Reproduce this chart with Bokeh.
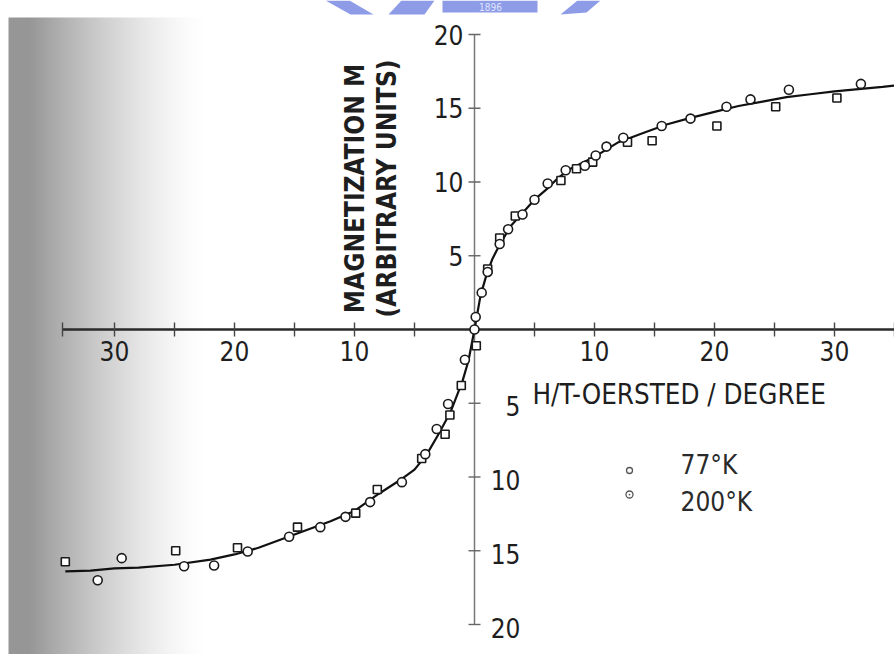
import numpy as np
from bokeh.plotting import figure
from bokeh.models import Range1d
from bokeh.core.properties import value
from bokeh.embed import file_html
from bokeh.resources import INLINE

# ---------------- data ----------------
# smooth magnetization curve, M vs H/T
curve_h = [-34.1, -32, -30, -28, -25, -22, -20, -18, -15, -12, -10, -8, -6, -5,
           -4, -3, -2, -1, -0.5, 0, 0.5, 1, 1.5, 2, 3, 4, 5, 6, 7, 8, 9, 10,
           12, 14, 16, 18, 20, 22, 24, 26, 28, 30, 32, 34, 35.2]
curve_m = [-16.4, -16.35, -16.2, -16.15, -15.95, -15.6, -15.25, -14.8, -13.9,
           -13.0, -12.3, -11.15, -10.1, -9.5, -8.5, -7.1, -5.6, -3.5, -2.1, 0,
           2.3, 3.7, 4.8, 5.6, 7.0, 7.9, 8.8, 9.5, 10.3, 10.9, 11.3, 11.7,
           12.7, 13.3, 13.9, 14.35, 14.75, 15.15, 15.45, 15.75, 15.95, 16.15,
           16.3, 16.45, 16.55]

# measurements at 77 K
h_77 = [0, 0.1, 0.6, 1.1, 2.1, 2.8, 4.0, 5.0, 6.1, 7.6, 9.2, 10.1, 11.0, 12.4,
        15.6, 18.0, 21.0, 23.0, 26.2, 32.2,
        -0.8, -2.2, -3.15, -4.1, -6.05, -8.7, -10.75, -12.85, -15.45, -18.9,
        -21.7, -24.2, -29.4, -31.4]
m_77 = [0, 0.85, 2.5, 3.9, 5.8, 6.8, 7.8, 8.8, 9.9, 10.8, 11.1, 11.8, 12.4, 13.0,
        13.8, 14.3, 15.1, 15.6, 16.25, 16.65,
        -2.05, -5.05, -6.75, -8.45, -10.35, -11.7, -12.7, -13.4, -14.05, -15.05,
        -16.0, -16.05, -15.5, -17.0]

# measurements at 200 K
h_200 = [0.15, 1.1, 2.1, 3.4, 7.2, 8.5, 9.85, 12.75, 14.8, 20.2, 25.1, 30.2,
         -1.1, -2.05, -2.45, -4.4, -8.1, -9.9, -14.75, -19.75, -24.9, -34.1]
m_200 = [-1.1, 4.1, 6.2, 7.7, 10.1, 10.9, 11.35, 12.7, 12.8, 13.8, 15.1, 15.7,
         -3.8, -5.8, -7.1, -8.75, -10.85, -12.45, -13.4, -14.8, -15.0, -15.75]

series_names = ["77\u00b0K", "200\u00b0K"]

x_ticks = [-30, -25, -20, -15, -10, -5, 5, 10, 15, 20, 25, 30, 35]
x_label_vals = [-30, -20, -10, 10, 20, 30]
x_label_text = ["30", "20", "10", "10", "20", "30"]
y_ticks = [20, 15, 10, 5, -5, -10, -15, -20]
y_pos_vals = [20, 15, 10, 5]
y_pos_text = ["20", "15", "10", "5"]
y_neg_vals = [-5, -10, -15, -20]
y_neg_text = ["5", "10", "15", "20"]

# ---------------- canvas geometry ----------------
W, H = 894, 654
PPX, PPY = 12.0, 14.75          # pixels per data unit
X_LO = -474 / PPX
X_HI = (W - 474) / PPX
Y_HI = 329 / PPY
Y_LO = -(H - 329) / PPY


def dx(px):
    return X_LO + px / PPX


def dy(py):
    return Y_HI - py / PPY


FONT = value("DejaVu Sans Condensed, DejaVu Sans, sans-serif")
INK = "#1e1e1e"

p = figure(width=W, height=H, x_range=Range1d(X_LO, X_HI),
           y_range=Range1d(Y_LO, Y_HI), output_backend="svg",
           toolbar_location=None, x_axis_location=None, y_axis_location=None,
           min_border=0, background_fill_color="white",
           border_fill_color="white", outline_line_color=None)
p.grid.visible = False

# grey shading along the left margin of the sheet
cols = 200
xs_px = np.arange(cols) + 0.5
shade = np.clip((195 - xs_px) / 175.0, 0, 1) ** 1.4
grey = (255 - 105 * shade).astype(np.uint32)
img = np.zeros((1, cols), dtype=np.uint32)
view = img.view(dtype=np.uint8).reshape((1, cols, 4))
view[..., 0] = grey
view[..., 1] = grey
view[..., 2] = grey
view[..., 3] = 255
p.image_rgba(image=[img], x=dx(8), y=dy(H), dw=cols / PPX, dh=(H - 17) / PPY)

# library stamp at the top edge
stamp_color = "#8e9ce8"
p.patch([dx(325), dx(349), dx(373), dx(350)], [dy(0), dy(0), dy(14), dy(14)],
        fill_color=stamp_color, line_color=None)
p.patch([dx(388), dx(401), dx(434), dx(424)], [dy(14), dy(0), dy(0), dy(14)],
        fill_color=stamp_color, line_color=None)
p.quad(left=dx(442), right=dx(537), top=dy(0), bottom=dy(12),
       fill_color=stamp_color, line_color=None)
p.patch([dx(560), dx(577), dx(600), dx(586)], [dy(14), dy(0), dy(0), dy(12)],
        fill_color=stamp_color, line_color=None)
p.text(x=[dx(490)], y=[dy(6.5)], text=["1896"], text_align="center",
       text_baseline="middle", text_font=FONT, text_font_size="10px",
       text_color="#dfe4fb")

# axes drawn through the origin
p.segment(x0=[dx(62)], y0=[0], x1=[X_HI], y1=[0], line_color="#2a2a2a",
          line_width=2.4)
p.segment(x0=[0], y0=[-20], x1=[0], y1=[20], line_color="#777777",
          line_width=1.5)

tx = 7 / PPY
p.segment(x0=x_ticks + [dx(62)], y0=[-tx] * (len(x_ticks) + 1),
          x1=x_ticks + [dx(62)], y1=[tx] * (len(x_ticks) + 1),
          line_color="#444444", line_width=1.4)
ty = 6 / PPX
p.segment(x0=[-ty] * len(y_ticks), y0=y_ticks, x1=[ty] * len(y_ticks),
          y1=y_ticks, line_color="#666666", line_width=1.4)

p.text(x=x_label_vals, y=[0] * len(x_label_vals), text=x_label_text,
       y_offset=21, text_align="center", text_baseline="middle",
       text_font=FONT, text_font_size="26px", text_color=INK)
p.text(x=[0] * 4, y=y_pos_vals, text=y_pos_text, x_offset=-11,
       text_align="right", text_baseline="middle", text_font=FONT,
       text_font_size="26px", text_color=INK)
p.text(x=[0] * 4, y=y_neg_vals, text=y_neg_text, x_offset=46, y_offset=3,
       text_align="right", text_baseline="middle", text_font=FONT,
       text_font_size="26px", text_color=INK)

# axis titles
p.text(x=[dx(532)], y=[dy(393)], text=["H/T-OERSTED / DEGREE"],
       text_align="left", text_baseline="middle", text_font=FONT,
       text_font_size="27.5px", text_color=INK)
p.text(x=[dx(354), dx(386)], y=[dy(188), dy(188)],
       text=["MAGNETIZATION M", "(ARBITRARY UNITS)"], angle=np.pi / 2,
       text_align="center", text_baseline="middle", text_font=FONT,
       text_font_size="26px", text_font_style="bold", text_color=INK)

# fitted curve and measurements
p.line(curve_h, curve_m, line_color="#111111", line_width=2.2)
p.scatter(h_200, m_200, marker="square", size=8, fill_color="white",
          line_color="#1a1a1a", line_width=1.6)
p.scatter(h_77, m_77, marker="circle", size=9, fill_color="white",
          line_color="#1a1a1a", line_width=1.6)

# key
key_x = dx(629)
key_y = [dy(470), dy(494)]
p.scatter([key_x], [key_y[0]], marker="circle", size=6, fill_color="white",
          line_color="#555555", line_width=1.3)
p.scatter([key_x], [key_y[1]], marker="circle_dot", size=7, fill_color="white",
          line_color="#555555", line_width=1.3)
p.text(x=[key_x, key_x], y=[dy(464), dy(501)], text=series_names, x_offset=51,
       text_align="left", text_baseline="middle", text_font=FONT,
       text_font_size="26px", text_color="#2a2a2a")

open("out.html", "w").write(file_html(p, INLINE))
